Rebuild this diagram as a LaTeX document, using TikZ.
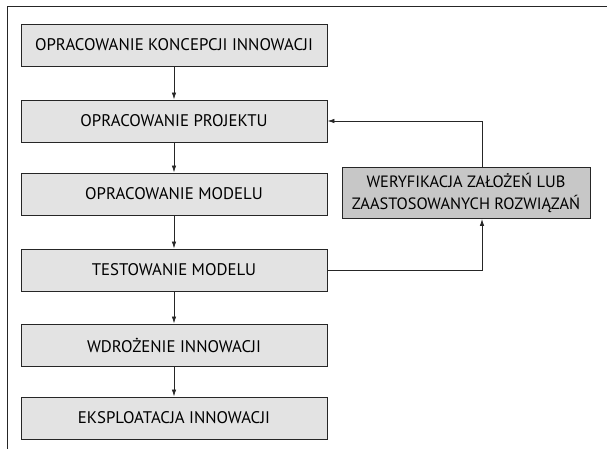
\documentclass[tikz,border=0pt]{standalone}
\usepackage{fontspec}
\setmainfont{PT Sans}
\usetikzlibrary{arrows.meta,positioning}

\tikzset{
  etap/.style={draw=black!85, line width=0.9pt, fill=black!11, minimum width=306pt,
    minimum height=42pt, inner sep=0pt, font=\fontsize{16.8}{20}\selectfont},
  weryf/.style={etap, fill=black!22, minimum width=248pt, minimum height=51pt,
    align=center, font=\fontsize{16.4}{22}\selectfont},
  strzalka/.style={draw=black!85, line width=0.8pt, -{Latex[length=7pt,width=4.5pt]}}
}

\begin{document}
\begin{tikzpicture}[x=1pt,y=1pt]
\useasboundingbox (0,0) rectangle (607,-449);
% ramka
\draw [black!85, line width=1pt] (607,-7) -- (7,-7) -- (7,-449);
% etapy
\node [etap] (koncepcja) at (174,-45) {OPRACOWANIE KONCEPCJI INNOWACJI};
\node [etap] (projekt) at (174,-121) {OPRACOWANIE PROJEKTU};
\node [etap] (model) at (174,-194) {OPRACOWANIE MODELU};
\node [etap] (test) at (174,-270) {TESTOWANIE MODELU};
\node [etap] (wdrozenie) at (174,-345) {WDROŻENIE INNOWACJI};
\node [etap] (eksploatacja) at (174,-418) {EKSPLOATACJA INNOWACJI};
\node [weryf] (weryfikacja) at (466,-193) {WERYFIKACJA ZAŁOŻEŃ LUB\\ZAASTOSOWANYCH ROZWIĄZAŃ};
% przejscia
\draw [strzalka] (koncepcja) -- (projekt);
\draw [strzalka] (projekt) -- (model);
\draw [strzalka] (model) -- (test);
\draw [strzalka] (test) -- (wdrozenie);
\draw [strzalka] (wdrozenie) -- (eksploatacja);
% petla
\draw [strzalka] (test.east) -| ([xshift=16pt]weryfikacja.south);
\draw [strzalka] ([xshift=16pt]weryfikacja.north) |- (projekt.east);
\end{tikzpicture}
\end{document}
